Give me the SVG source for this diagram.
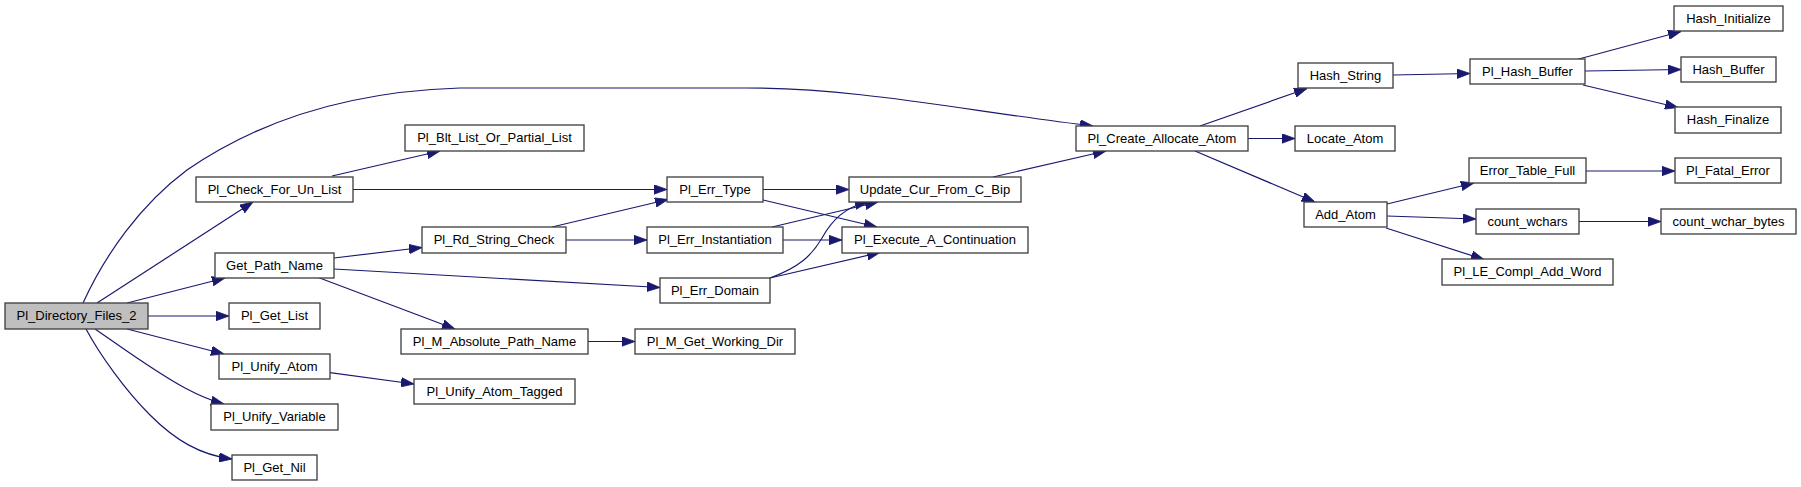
<svg xmlns="http://www.w3.org/2000/svg" width="1801" height="487" viewBox="0 0 1801 487">
<style>
.n rect{fill:#ffffff;stroke:#404040;stroke-width:1.33}
.n.root rect{fill:#bfbfbf}
.n text{font-family:"Liberation Sans",Arial,sans-serif;font-size:13px;fill:#000;text-anchor:middle}
.e path{fill:none;stroke:#191970;stroke-width:1.2;marker-end:url(#ah)}
</style>
<defs>
<marker id="ah" markerUnits="userSpaceOnUse" markerWidth="13" markerHeight="10" viewBox="0 0 13 10" refX="13" refY="5" orient="auto">
<path d="M0,0.3 L13,5 L0,9.7 z" fill="#191970" stroke="#191970" stroke-width="0.8"/>
</marker>
</defs>
<rect width="1801" height="487" fill="#ffffff"/>
<g id="edges" class="e">
<path d="M83,303 C105,255 140,205 187,170 C245,130 330,92 460,88 L745,88 C860,88 960,110 1093,126"/>
<path d="M97,303 L253,202"/>
<path d="M127,303 L225,278"/>
<path d="M148,316 L229,316"/>
<path d="M127,329 L224,354"/>
<path d="M95,329 C120,346 155,372 185,388 C200,396 212,401 224,404"/>
<path d="M86,329 C100,355 125,390 150,415 C175,440 200,455 232,459"/>
<path d="M332,176 L440,151"/>
<path d="M353,189.5 L667,189.5"/>
<path d="M334,258 L422,247.5"/>
<path d="M334,269 L660,287.5"/>
<path d="M317,277 L455,329"/>
<path d="M552,227 L668,199.5"/>
<path d="M566,240 L647,240"/>
<path d="M588,341.5 L635,341.5"/>
<path d="M330,372.7 L414,384"/>
<path d="M763,189.5 L849,189.5"/>
<path d="M763,200 L877,227"/>
<path d="M772,227 L878,202"/>
<path d="M783,240 L842,240"/>
<path d="M770,278 C800,267 812,255 822,238 C832,220 845,207 868,202"/>
<path d="M770,278 L880,252.5"/>
<path d="M993,177 L1106,151"/>
<path d="M1200,126 L1307,88.5"/>
<path d="M1248,138.5 L1295,138.5"/>
<path d="M1195,151 L1315,202"/>
<path d="M1393,75 L1470,73.5"/>
<path d="M1577,59.5 L1681,31.5"/>
<path d="M1585,71 L1681,69.5"/>
<path d="M1583,85 L1678,107.5"/>
<path d="M1387,204 L1474,183"/>
<path d="M1387,216 L1476,219"/>
<path d="M1386,228 L1484,259.5"/>
<path d="M1586,171 L1675,171"/>
<path d="M1579,221.5 L1661,221.5"/>
</g>
<g id="Pl_Directory_Files_2" class="n root"><rect x="5" y="303" width="143" height="26"/><text x="76.5" y="320">Pl_Directory_Files_2</text></g>
<g id="Pl_Check_For_Un_List" class="n"><rect x="196" y="177" width="157" height="25"/><text x="274.5" y="194">Pl_Check_For_Un_List</text></g>
<g id="Pl_Blt_List_Or_Partial_List" class="n"><rect x="405" y="125" width="179" height="26"/><text x="494.5" y="142">Pl_Blt_List_Or_Partial_List</text></g>
<g id="Get_Path_Name" class="n"><rect x="215" y="253" width="119" height="25"/><text x="274.5" y="270">Get_Path_Name</text></g>
<g id="Pl_Rd_String_Check" class="n"><rect x="422" y="227" width="144" height="26"/><text x="494" y="244">Pl_Rd_String_Check</text></g>
<g id="Pl_Get_List" class="n"><rect x="229" y="303" width="91" height="26"/><text x="274.5" y="320">Pl_Get_List</text></g>
<g id="Pl_M_Absolute_Path_Name" class="n"><rect x="401" y="329" width="187" height="25"/><text x="494.5" y="346">Pl_M_Absolute_Path_Name</text></g>
<g id="Pl_Unify_Atom" class="n"><rect x="219" y="354" width="111" height="25"/><text x="274.5" y="371">Pl_Unify_Atom</text></g>
<g id="Pl_Unify_Atom_Tagged" class="n"><rect x="414" y="379" width="161" height="25"/><text x="494.5" y="396">Pl_Unify_Atom_Tagged</text></g>
<g id="Pl_Unify_Variable" class="n"><rect x="211" y="404" width="127" height="26"/><text x="274.5" y="421">Pl_Unify_Variable</text></g>
<g id="Pl_Get_Nil" class="n"><rect x="232" y="455" width="85" height="25"/><text x="274.5" y="472">Pl_Get_Nil</text></g>
<g id="Pl_Err_Type" class="n"><rect x="667" y="177" width="96" height="25"/><text x="715" y="194">Pl_Err_Type</text></g>
<g id="Update_Cur_From_C_Bip" class="n"><rect x="849" y="177" width="172" height="25"/><text x="935" y="194">Update_Cur_From_C_Bip</text></g>
<g id="Pl_Err_Instantiation" class="n"><rect x="647" y="227" width="136" height="26"/><text x="715" y="244">Pl_Err_Instantiation</text></g>
<g id="Pl_Execute_A_Continuation" class="n"><rect x="842" y="227" width="186" height="26"/><text x="935" y="244">Pl_Execute_A_Continuation</text></g>
<g id="Pl_Err_Domain" class="n"><rect x="660" y="278" width="110" height="25"/><text x="715" y="295">Pl_Err_Domain</text></g>
<g id="Pl_M_Get_Working_Dir" class="n"><rect x="635" y="329" width="160" height="25"/><text x="715" y="346">Pl_M_Get_Working_Dir</text></g>
<g id="Pl_Create_Allocate_Atom" class="n"><rect x="1076" y="126" width="172" height="25"/><text x="1162" y="143">Pl_Create_Allocate_Atom</text></g>
<g id="Hash_String" class="n"><rect x="1298" y="63" width="95" height="25"/><text x="1345.5" y="80">Hash_String</text></g>
<g id="Locate_Atom" class="n"><rect x="1295" y="126" width="100" height="25"/><text x="1345" y="143">Locate_Atom</text></g>
<g id="Add_Atom" class="n"><rect x="1304" y="202" width="83" height="25"/><text x="1345.5" y="219">Add_Atom</text></g>
<g id="Pl_Hash_Buffer" class="n"><rect x="1470" y="59" width="115" height="25"/><text x="1527.5" y="76">Pl_Hash_Buffer</text></g>
<g id="Hash_Initialize" class="n"><rect x="1674" y="6" width="109" height="25"/><text x="1728.5" y="23">Hash_Initialize</text></g>
<g id="Hash_Buffer" class="n"><rect x="1681" y="57" width="95" height="25"/><text x="1728.5" y="74">Hash_Buffer</text></g>
<g id="Hash_Finalize" class="n"><rect x="1675" y="107" width="106" height="26"/><text x="1728" y="124">Hash_Finalize</text></g>
<g id="Error_Table_Full" class="n"><rect x="1469" y="158" width="117" height="25"/><text x="1527.5" y="175">Error_Table_Full</text></g>
<g id="Pl_Fatal_Error" class="n"><rect x="1675" y="158" width="106" height="25"/><text x="1728" y="175">Pl_Fatal_Error</text></g>
<g id="count_wchars" class="n"><rect x="1476" y="209" width="103" height="25"/><text x="1527.5" y="226">count_wchars</text></g>
<g id="count_wchar_bytes" class="n"><rect x="1661" y="209" width="135" height="25"/><text x="1728.5" y="226">count_wchar_bytes</text></g>
<g id="Pl_LE_Compl_Add_Word" class="n"><rect x="1442" y="259" width="171" height="26"/><text x="1527.5" y="276">Pl_LE_Compl_Add_Word</text></g>
</svg>
